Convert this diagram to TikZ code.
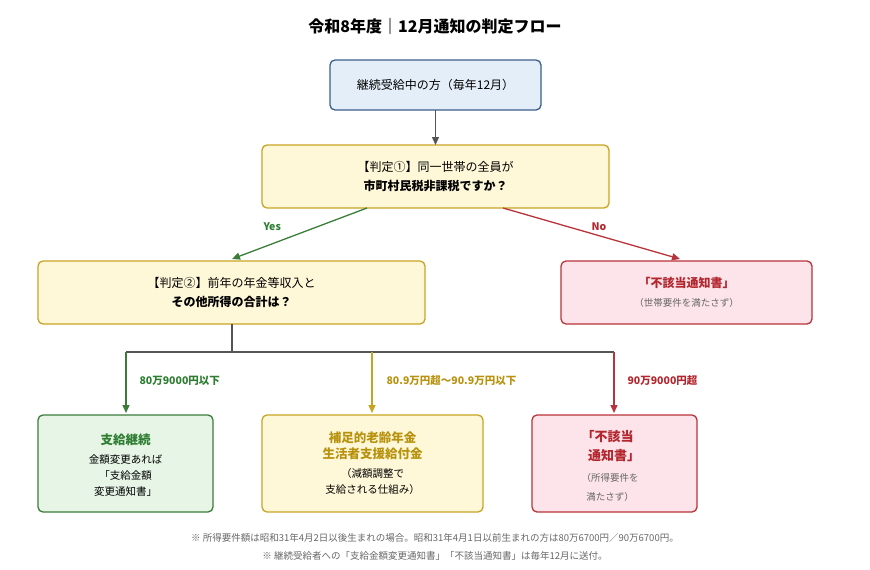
\documentclass[tikz,border=0pt]{standalone}
\usepackage{fontspec}
\setmainfont{Noto Sans CJK JP}
\usetikzlibrary{arrows.meta}
\definecolor{bB}{HTML}{3A5F8C}\definecolor{bF}{HTML}{E4EEF8}
\definecolor{yB}{HTML}{C9A422}\definecolor{yF}{HTML}{FFF8D8}
\definecolor{rB}{HTML}{B8333A}\definecolor{rF}{HTML}{FCE4EA}
\definecolor{gB}{HTML}{3A7D3A}\definecolor{gF}{HTML}{E6F5E6}
\definecolor{gT}{HTML}{2E7D32}\definecolor{yT}{HTML}{B8920F}\definecolor{rT}{HTML}{B3262E}
\definecolor{ln}{HTML}{555555}\definecolor{nt}{HTML}{666666}
\begin{document}
\begin{tikzpicture}[x=1pt,y=-1pt,
 box/.style={draw,line width=1.3pt,rounded corners=5pt},
 arr/.style={line width=1.3pt,-{Triangle[length=8pt,width=7pt]}},
 txt/.style={font=\fontsize{12}{19}\selectfont,align=center},
 lab/.style={font=\fontsize{10.5}{12}\selectfont\bfseries,anchor=west}]
\useasboundingbox (0,0) rectangle (870,570);
\node[font=\fontsize{16}{19}\selectfont\bfseries] (title) at (435,26) {令和8年度｜12月通知の判定フロー};
\draw[box,draw=bB,fill=bF] (330,60) rectangle (541,110);
\node[txt] (s) at (435.5,85) {継続受給中の方（毎年12月）};
\coordinate (sb) at (435.5,110);
\draw[box,draw=yB,fill=yF] (262,145) rectangle (609,208);
\node[txt] (q1) at (435.5,176.5) {【判定①】同一世帯の全員が\\\textbf{市町村民税非課税ですか？}};
\coordinate (q1t) at (435.5,145);
\draw[box,draw=yB,fill=yF] (38,261) rectangle (425,324);
\node[txt] (q2) at (231.5,292.5) {【判定②】前年の年金等収入と\\\textbf{その他所得の合計は？}};
\draw[box,draw=rB,fill=rF] (561,261) rectangle (812,324);
\node[txt] (n1) at (686.5,292.5) {\textcolor{rT}{\textbf{「不該当通知書」}}\\\textcolor{nt}{\fontsize{9.5}{15}\selectfont（世帯要件を満たさず）}};
\draw[arr,ln] (sb) -- (q1t);
\coordinate (ya) at (367,208); \coordinate (yb) at (232,259);
\coordinate (na) at (503,208); \coordinate (nb) at (680,259);
\draw[arr,gB] (ya) -- (yb);
\draw[arr,rB] (na) -- (nb);
\node[lab,text=gT] (yes) at (260,227) {Yes};
\node[lab,text=rT] (no) at (588,227) {No};
\coordinate (q2b) at (232,324); \coordinate (j) at (232,352);
\coordinate (h1) at (126,352); \coordinate (h3) at (614,352);
\coordinate (h2) at (372,352);
\draw[line width=1.3pt,ln] (q2b) -- (j);
\draw[line width=1.3pt,ln] (h1) -- (h3);
\draw[arr,gB] (h1) -- (126,413);
\draw[arr,yB] (h2) -- (372,413);
\draw[arr,rB] (h3) -- (614,413);
\node[lab,text=gT] (l1) at (136,381) {80万9000円以下};
\node[lab,text=yT] (l2) at (383,381) {80.9万円超〜90.9万円以下};
\node[lab,text=rT] (l3) at (624,381) {90万9000円超};
\draw[box,draw=gB,fill=gF] (38,415) rectangle (213,512);
\node[txt,font=\fontsize{10.5}{16}\selectfont] (b1) at (125.5,465) {\textcolor{gT}{\fontsize{12.5}{18}\selectfont\textbf{支給継続}}\\[3pt]金額変更あれば\\「支給金額\\変更通知書」};
\draw[box,draw=yB,fill=yF] (262,415) rectangle (483,512);
\node[txt,font=\fontsize{10.5}{16}\selectfont] (b2) at (372.5,463) {\textcolor{yT}{\fontsize{12.5}{19}\selectfont\textbf{補足的老齢年金}}\\\textcolor{yT}{\fontsize{12.5}{19}\selectfont\textbf{生活者支援給付金}}\\[3pt]（減額調整で\\支給される仕組み）};
\draw[box,draw=rB,fill=rF] (532,415) rectangle (697,512);
\node[txt,align=left,anchor=north west] (b3) at (578,427) {\textcolor{rT}{\fontsize{13}{20}\selectfont\textbf{「不該当}}\\\textcolor{rT}{\fontsize{13}{20}\selectfont\textbf{\hspace{0.5em}通知書」}}\\[2pt]\textcolor{nt}{\fontsize{9.5}{15}\selectfont（所得要件を}\\\textcolor{nt}{\fontsize{9.5}{15}\selectfont\hspace{0.5em}満たさず）}};
\node[font=\fontsize{9.5}{11}\selectfont,text=nt] (f1) at (435,538) {※ 所得要件額は昭和31年4月2日以後生まれの場合。昭和31年4月1日以前生まれの方は80万6700円／90万6700円。};
\node[font=\fontsize{9.5}{11}\selectfont,text=nt] (f2) at (435,556) {※ 継続受給者への「支給金額変更通知書」「不該当通知書」は毎年12月に送付。};
\end{tikzpicture}
\end{document}
